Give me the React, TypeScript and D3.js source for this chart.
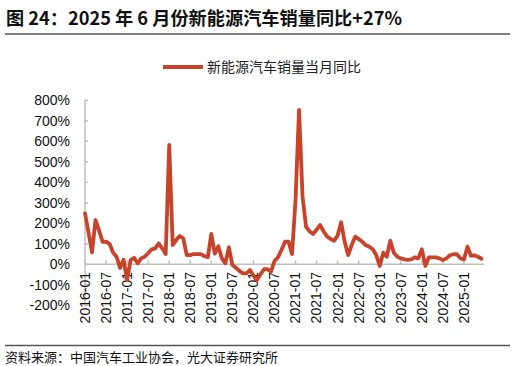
import React from "react";
import * as d3 from "d3";

const title = "图 24：2025 年 6 月份新能源汽车销量同比+27%";
const legendLabel = "新能源汽车销量当月同比";
const sourceNote = "资料来源：中国汽车工业协会，光大证券研究所";

const startYear = 2016;
const monthCount = 114;
const months: string[] = Array.from({ length: monthCount }, (_, i) => {
  const y = startYear + Math.floor(i / 12);
  const m = (i % 12) + 1;
  return `${y}-${m < 10 ? "0" + m : m}`;
});

// monthly YoY growth, % (2016-01 .. 2025-06)
const yoy2016 = [249, 155, 58, 216, 165, 110, 110, 100, 57, 37, -18, 22];
const yoy2017 = [-77, 21, 32, 5, 29, 37, 54, 73, 78, 102, 78, 50];
const yoy2018 = [582, 94, 118, 138, 127, 45, 45, 50, 50, 50, 40, 34];
const yoy2019 = [148, 52, 88, 29, 5, 83, -3, -17, -32, -44, -44, -28];
const yoy2020 = [-55, -77, -49, -24, -24, -36, 16, 34, 70, 110, 110, 50];
const yoy2021 = [314, 753, 330, 184, 161, 148, 168, 192, 160, 136, 123, 115];
const yoy2022 = [140, 205, 110, 45, 94, 135, 123, 110, 94, 86, 73, 45];
const yoy2023 = [-8, 57, 37, 115, 57, 37, 29, 24, 21, 24, 34, 29];
const yoy2024 = [73, -8, 34, 34, 34, 29, 21, 29, 44, 49, 49, 29];
const yoy2025 = [24, 86, 42, 44, 37, 27];
const values: number[] = [
  ...yoy2016, ...yoy2017, ...yoy2018, ...yoy2019, ...yoy2020,
  ...yoy2021, ...yoy2022, ...yoy2023, ...yoy2024, ...yoy2025,
];

const yTicks = [-200, -100, 0, 100, 200, 300, 400, 500, 600, 700, 800];

const W = 516;
const H = 366;
const left = 85;
const right = 481.5;
const top = 100.3;
const bottom = 305.3;
const lineColor = "#C8432A";
const axisColor = "#BFBFBF";
const latin = "'Liberation Sans', Arial, Helvetica, sans-serif";
const cjk = "'Noto Sans CJK SC', 'Liberation Sans', sans-serif";

export default function App() {
  const x = d3.scalePoint<string>().domain(months).range([left, right]);
  const y = d3.scaleLinear().domain([-200, 800]).range([bottom, top]);
  const line = d3
    .line<number>()
    .x((_, i) => x(months[i]) as number)
    .y((d) => y(d));
  const xTickMonths = months.filter((_, i) => i % 6 === 0);
  const y0 = y(0);

  return (
    <svg
      width={W}
      height={H}
      style={{ position: "absolute", left: 0, top: 0, background: "#fff" }}
    >
      <text
        x={6}
        y={25}
        fontFamily={cjk}
        fontWeight="bold"
        fontSize={18.2}
        fill="#111"
      >
        {title}
      </text>
      <line x1={5} x2={510} y1={34} y2={34} stroke="#555" strokeWidth={1.5} />

      {/* legend */}
      <line x1={163} x2={203} y1={67} y2={67} stroke={lineColor} strokeWidth={4} />
      <text x={207} y={72} fontFamily={cjk} fontSize={14} fill="#222">
        {legendLabel}
      </text>

      {/* y axis */}
      <line x1={left} x2={left} y1={top} y2={bottom} stroke={axisColor} strokeWidth={1.5} />
      {yTicks.map((t) => (
        <g key={t}>
          <line x1={left} x2={left + 3} y1={y(t)} y2={y(t)} stroke={axisColor} strokeWidth={1.5} />
          <text
            x={70}
            y={y(t)}
            dy="0.35em"
            textAnchor="end"
            fontFamily={latin}
            fontSize={14}
            fill="#111"
          >
            {t}%
          </text>
        </g>
      ))}

      {/* x axis */}
      <line x1={left} x2={484} y1={y0} y2={y0} stroke={axisColor} strokeWidth={1.5} />
      {xTickMonths.map((m) => {
        const px = x(m) as number;
        return (
          <g key={m}>
            <line x1={px} x2={px} y1={y0} y2={y0 - 4} stroke={axisColor} strokeWidth={1.5} />
            <text
              transform={`translate(${px},${272}) rotate(-90)`}
              dy="0.35em"
              textAnchor="end"
              fontFamily={latin}
              fontSize={14}
              fill="#111"
            >
              {m}
            </text>
          </g>
        );
      })}

      <path
        d={line(values) || ""}
        fill="none"
        stroke={lineColor}
        strokeWidth={3.8}
        strokeLinejoin="round"
        strokeLinecap="round"
      />

      <line x1={5} x2={510} y1={345.5} y2={345.5} stroke="#555" strokeWidth={1.5} />
      <text x={5} y={362} fontFamily={cjk} fontSize={13} fill="#111">
        {sourceNote}
      </text>
    </svg>
  );
}
